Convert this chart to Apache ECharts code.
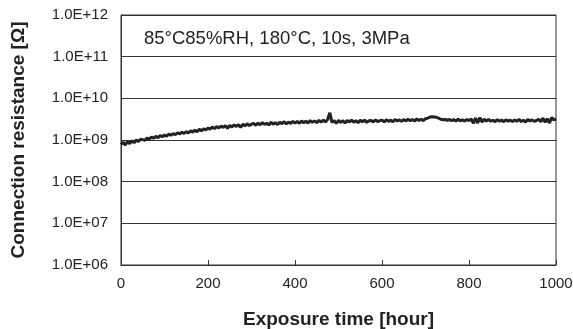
<!DOCTYPE html>
<html>
<head>
<meta charset="utf-8">
<script src="https://cdn.jsdelivr.net/npm/echarts@6/dist/echarts.min.js"></script>
<style>html,body{margin:0;padding:0;background:#fff}#c{width:573px;height:329px}</style>
</head>
<body>
<div id="c"></div>
<script>
// Exposure time [hour], every 5 hours from 0 to 1000
const timeStart = 0, timeStep = 5;
// Connection resistance in units of 1e9 Ω
const resistanceE9 = [
  0.78,0.88,0.76,0.92,0.82,0.96,0.86,1.00,0.92,1.04,1.02,
  0.98,1.12,1.04,1.18,1.10,1.22,1.14,1.28,1.20,1.32,
  1.24,1.38,1.30,1.42,1.34,1.48,1.40,1.54,1.44,1.58,
  1.48,1.66,1.54,1.72,1.58,1.80,1.66,1.86,1.74,1.94,
  1.82,2.05,1.88,2.10,1.95,2.15,2.00,2.22,1.90,2.25,
  2.05,2.30,2.12,2.35,2.00,2.38,2.18,2.45,2.22,2.40,
  2.50,2.25,2.55,2.32,2.62,2.38,2.52,2.30,2.66,2.40,
  2.60,2.35,2.68,2.45,2.75,2.42,2.70,2.50,2.80,2.55,
  2.78,2.52,2.86,2.60,2.84,2.55,2.92,2.65,2.88,2.62,
  2.95,2.70,3.00,2.72,3.10,4.50,2.65,2.92,2.50,2.95,
  2.65,2.90,2.55,2.95,2.72,3.00,2.66,2.92,2.60,2.98,
  2.74,3.00,2.64,2.90,2.95,2.70,3.04,2.76,2.92,3.00,
  2.72,3.06,2.80,3.00,2.74,3.10,2.85,3.04,2.80,3.08,
  2.88,3.15,2.90,3.10,2.85,3.20,2.95,3.15,2.90,3.25,
  3.35,3.55,3.60,3.55,3.50,3.35,3.15,3.05,3.12,2.98,
  3.10,2.92,3.08,2.86,3.14,2.90,3.04,2.84,3.10,2.92,
  3.20,2.50,3.35,2.55,3.45,2.70,3.15,2.85,3.12,2.82,
  2.98,2.76,3.08,2.82,3.02,2.74,3.06,2.84,2.98,2.78,
  3.04,2.80,3.14,2.76,3.00,2.70,3.10,2.86,3.04,2.80,
  2.94,3.14,2.76,3.35,2.66,3.25,2.56,3.45,3.00,3.25
];
const xTicks = [0, 200, 400, 600, 800, 1000];
const yDecades = [6, 7, 8, 9, 10, 11, 12];
const conditionText = '85°C85%RH, 180°C, 10s, 3MPa';

const points = resistanceE9.map((v, i) => [timeStart + i * timeStep, v * 1e9]);
const font = '"Liberation Sans", Arial, Helvetica, sans-serif';

const chart = echarts.init(document.getElementById('c'), null, {renderer: 'canvas'});
chart.setOption({
  animation: false,
  backgroundColor: '#fff',
  title: {
    text: conditionText,
    left: 139, top: 24,
    textStyle: {fontFamily: font, fontSize: 18.5, fontWeight: 'normal', color: '#222'}
  },
  grid: {left: 121, right: 17, top: 15, bottom: 64, outerBoundsMode: 'none', containLabel: false,
         show: true, borderColor: '#333', borderWidth: 1, backgroundColor: 'transparent'},
  xAxis: {
    type: 'value', min: xTicks[0], max: xTicks[xTicks.length - 1], interval: 200,
    name: 'Exposure time [hour]', nameLocation: 'middle', nameGap: 45,
    nameTextStyle: {fontFamily: font, fontSize: 19, fontWeight: 'bold', color: '#222'},
    axisLine: {lineStyle: {color: '#333', width: 1}},
    axisTick: {inside: true, length: 5, lineStyle: {color: '#333'}},
    axisLabel: {fontFamily: font, fontSize: 15, color: '#222', margin: 11, formatter: v => String(v)},
    splitLine: {show: false}
  },
  yAxis: {
    type: 'log', logBase: 10, min: Math.pow(10, yDecades[0]), max: Math.pow(10, yDecades[yDecades.length - 1]),
    name: 'Connection resistance [Ω]', nameLocation: 'middle', nameGap: 93,
    nameTextStyle: {fontFamily: font, fontSize: 19, fontWeight: 'bold', color: '#222'},
    axisLine: {show: true, lineStyle: {color: '#333', width: 1}},
    axisTick: {show: false},
    axisLabel: {
      fontFamily: font, fontSize: 15, color: '#222', margin: 13,
      formatter: v => {
        const e = Math.round(Math.log10(v));
        return '1.0E+' + (e < 10 ? '0' + e : e);
      }
    },
    splitLine: {show: true, lineStyle: {color: '#333', width: 1}}
  },
  series: [{
    type: 'line', data: points, showSymbol: false,
    lineStyle: {color: '#222', width: 3}, itemStyle: {color: '#222'}
  }]
});
</script>
</body>
</html>
